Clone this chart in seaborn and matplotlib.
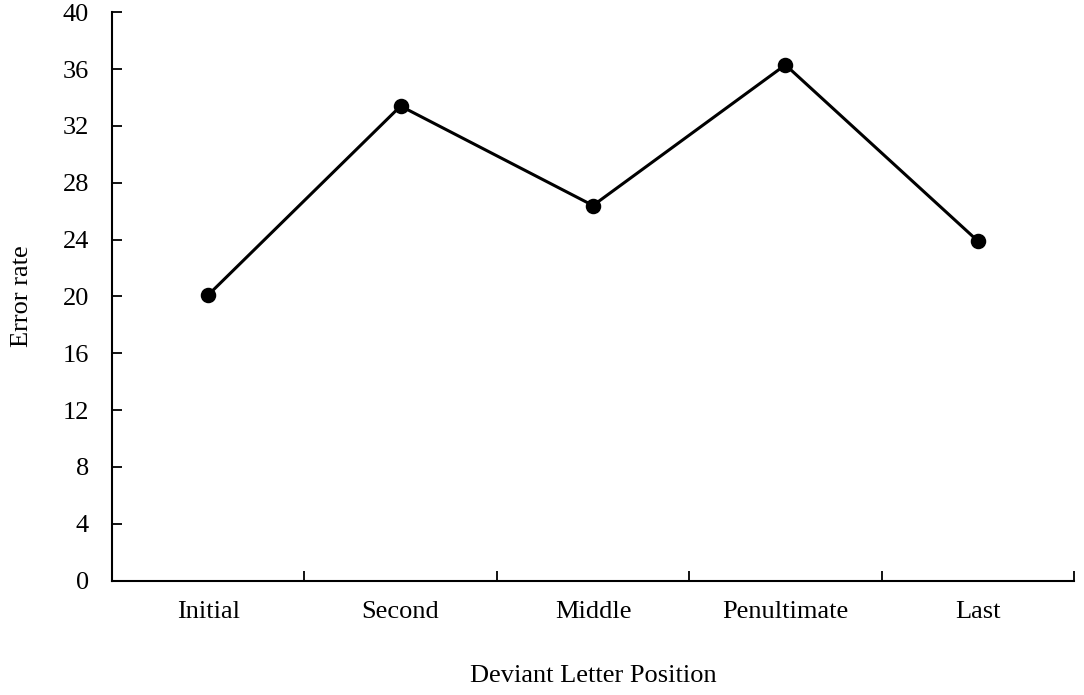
import matplotlib
matplotlib.use("Agg")
import matplotlib.pyplot as plt
import seaborn as sns
import pandas as pd
from matplotlib.ticker import FixedLocator, NullFormatter

categories = ["Initial", "Second", "Middle", "Penultimate", "Last"]
error_rate = [20.1, 33.4, 26.4, 36.3, 23.9]
y_ticks = [0, 4, 8, 12, 16, 20, 24, 28, 32, 36, 40]

sns.set_theme(style="white")
plt.rcParams['font.family'] = ['Liberation Serif', 'DejaVu Serif']
plt.rcParams['text.color'] = 'black'
plt.rcParams['axes.labelcolor'] = 'black'
plt.rcParams['xtick.color'] = 'black'
plt.rcParams['ytick.color'] = 'black'

df = pd.DataFrame({"Deviant Letter Position": categories, "Error rate": error_rate})

fig = plt.figure(figsize=(10.84, 6.95), dpi=100)
ax = fig.add_axes([0.1033, 0.1647, 0.8875, 0.8176])

sns.pointplot(data=df, x="Deviant Letter Position", y="Error rate", order=categories,
              color="black", markers="o", linewidth=2.2, markersize=9.5, ax=ax,
              errorbar=None)

n = len(categories)
fs = 19
ax.set_xlim(-0.5, n - 0.5)
ax.set_ylim(0, 40)
ax.set_yticks(y_ticks)
ax.set_yticklabels([str(t) for t in y_ticks], fontsize=fs)

# category labels at minor positions, boundary ticks at major positions
ax.xaxis.set_major_locator(FixedLocator([i + 0.5 for i in range(n)]))
ax.xaxis.set_major_formatter(NullFormatter())
ax.xaxis.set_minor_locator(FixedLocator(list(range(n))))
ax.set_xticklabels(categories, minor=True, fontsize=fs)
ax.tick_params(axis='x', which='major', direction='in', length=7, width=1.3, color='black',
               bottom=True)
ax.tick_params(axis='x', which='minor', length=0, pad=15, labelsize=fs, bottom=True,
               labelcolor='black')
ax.tick_params(axis='y', which='major', direction='in', length=7, width=1.3, color='black',
               pad=16.5, left=True, labelsize=fs, labelcolor='black')

for s in ['top', 'right']:
    ax.spines[s].set_visible(False)
for s in ['left', 'bottom']:
    ax.spines[s].set_color('black')
    ax.spines[s].set_linewidth(1.5)

ax.set_xlabel("Deviant Letter Position", fontsize=fs, labelpad=30, color='black')
ax.set_ylabel("Error rate", fontsize=fs, labelpad=21, color='black')

fig.savefig("out.png", dpi=100, facecolor="white")
